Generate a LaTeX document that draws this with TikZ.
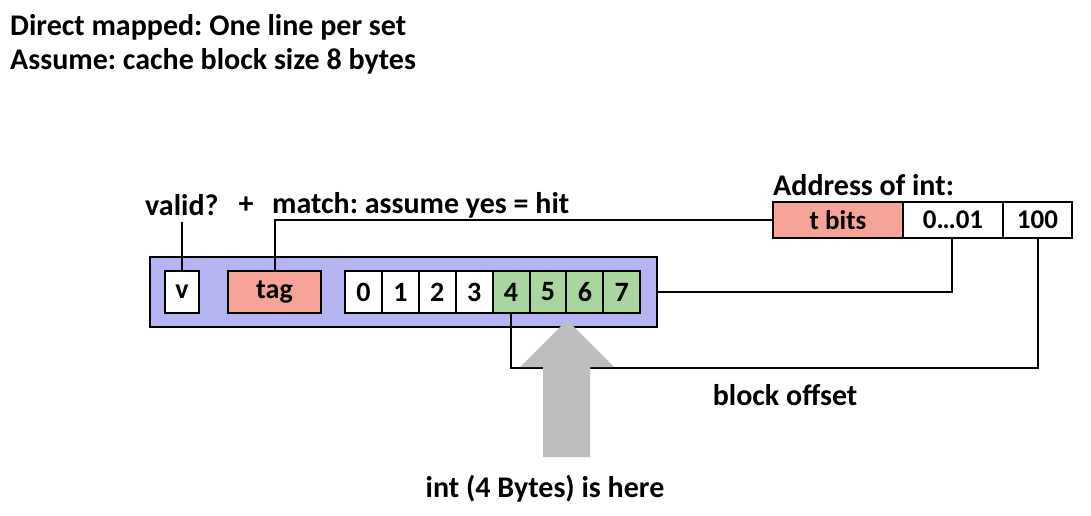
\documentclass[tikz,border=0pt]{standalone}
\usepackage{fontspec}
\setmainfont{Carlito}
\frenchspacing
\definecolor{lav}{RGB}{180,180,240}
\definecolor{salmon}{RGB}{246,163,152}
\definecolor{lgreen}{RGB}{168,214,158}
\definecolor{arrowgray}{RGB}{190,190,190}
\tikzset{
  txt/.style={font=\bfseries\fontsize{30}{34}\selectfont, inner sep=0pt},
  cell/.style={draw=black, line width=2pt, minimum height=42pt, inner sep=0pt, outer sep=0pt, font=\bfseries\fontsize{28}{32}\selectfont},
  bytecell/.style={cell, minimum width=36.9pt},
  addr/.style={draw=black, line width=1.2pt, minimum height=36pt, inner sep=0pt, outer sep=0pt, font=\bfseries\fontsize{27}{30}\selectfont},
  wire/.style={draw=black, line width=2pt}
}
\begin{document}
\begin{tikzpicture}[x=1pt,y=-1pt]
\useasboundingbox (0,0) rectangle (1091,515);
% titles
\node[txt, anchor=west] (t1) at (10,27) {Direct mapped: One line per set};
\node[txt, anchor=west] (t2) at (10,61) {Assume: cache block size 8 bytes};
\node[txt, anchor=west] (lab1) at (145,205) {valid?};
\node[txt] (lab2) at (246,205) {+};
\node[txt, anchor=west] (lab3) at (272,205) {match: assume yes = hit};
\node[txt, anchor=west] (adlab) at (773,185) {Address of int:};
% cache line
\node[draw=black, line width=2.5pt, fill=lav, minimum width=507pt, minimum height=70pt, inner sep=0pt, outer sep=0pt] (line) at (403.5,292) {};
\node[cell, fill=white, minimum width=34pt] (v) at (182,292) {v};
\node[cell, fill=salmon, minimum width=93pt] (tag) at (274.5,292) {tag};
\foreach \i in {0,...,7}{
  \pgfmathsetmacro{\cx}{345+18.45+36.9*\i}
  \ifnum\i<4
    \node[bytecell, fill=white] (b\i) at (\cx,292) {\i};
  \else
    \node[bytecell, fill=lgreen] (b\i) at (\cx,292) {\i};
  \fi
}
% address
\node[addr, fill=salmon, minimum width=130pt] (tb) at (838,220) {t bits};
\node[addr, fill=white, minimum width=100pt] (si) at (953,220) {0\dots01};
\node[addr, fill=white, minimum width=69pt] (bo) at (1037.5,220) {100};
% wires
\coordinate (vtop) at (182,222);
\draw[wire] (v.north) -- (vtop);
\draw[wire] (tag.north) |- (tb.west);
\draw[wire] (line.east) -| ([xshift=-1pt]si.south);
\coordinate (bend) at (1037.5,368);
\draw[wire] (bo.south) -- (bend) -| (b4.south);
\node[txt] (bolab) at (785,395) {block offset};
% gray arrow
\fill[arrowgray] (543,457) -- (543,367) -- (520,367) -- (567,320) -- (614,367) -- (590,367) -- (590,457) -- cycle;
\node[txt] (here) at (545,489) {int (4 Bytes) is here};
\end{tikzpicture}
\end{document}
